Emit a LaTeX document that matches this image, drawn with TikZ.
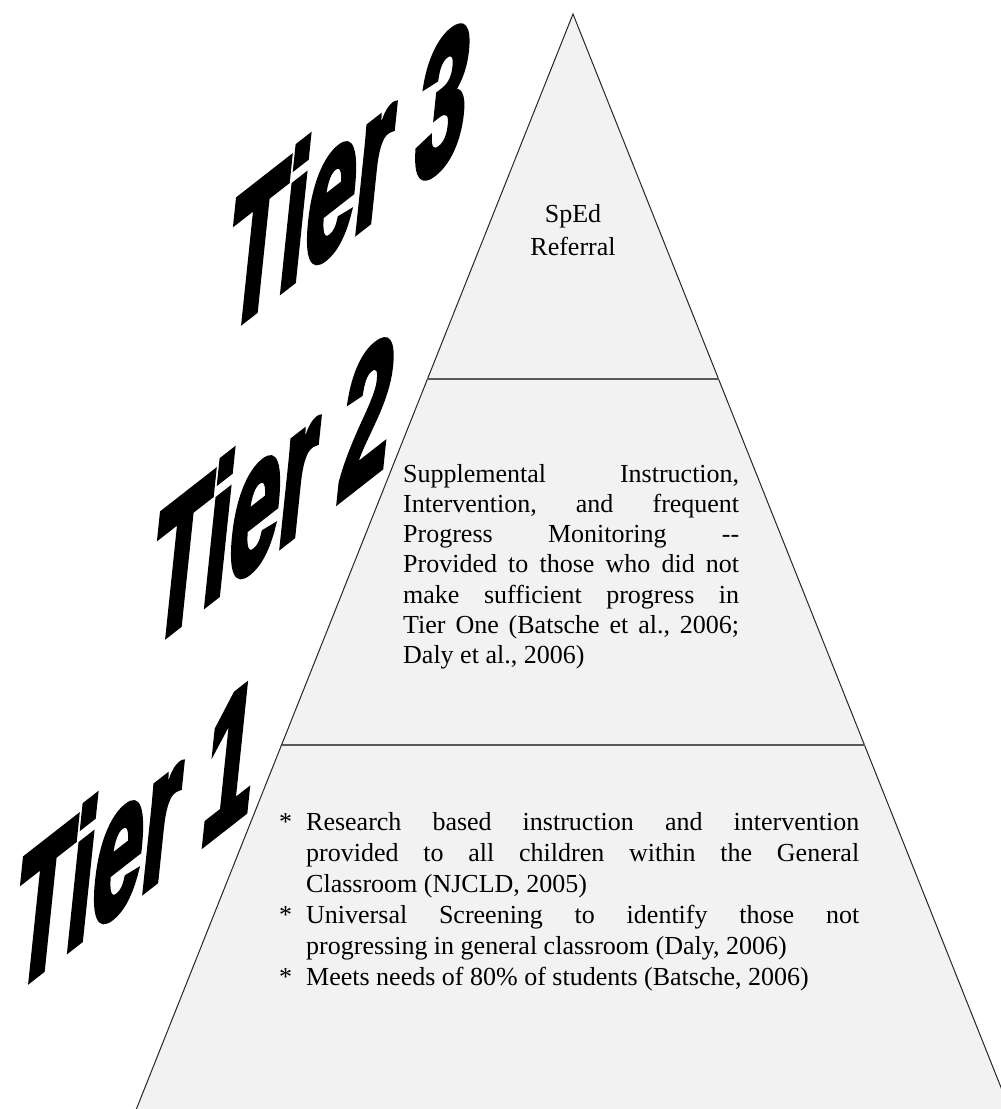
\documentclass[tikz,border=0pt]{standalone}
\usepackage{fontspec}
\setmainfont{Liberation Serif}
\newfontfamily\tierfont{Liberation Sans}[BoldFeatures={FakeBold=4}]
\usetikzlibrary{calc}
\definecolor{pyramidfill}{HTML}{F2F2F2}
\definecolor{dividergray}{HTML}{595959}
\setlength{\parindent}{0pt}

\begin{document}
\begin{tikzpicture}[x=1pt, y=-1pt,
    tierlabel/.style={font=\tierfont\bfseries\fontsize{86}{86}\selectfont, anchor=base west, inner sep=0pt, text height=0.74em, text depth=0pt, cm={1.05,0.82,0.24,2.3,(#1)}},
    tiertext/.style={inner sep=0pt, align=justify, anchor=north west},
    divider/.style={draw=dividergray, line width=2pt}]

    \useasboundingbox (0,0) rectangle (1001,1109);
    \clip (0,0) rectangle (1001,1109);

    \coordinate (apex) at (573,14);
    \coordinate (baseleft) at (134,1115);
    \coordinate (baseright) at (1012,1115);

    % pyramid and tier borders
    \filldraw[fill=pyramidfill, draw=black!85, line width=1pt] (apex) -- (baseleft) -- (baseright) -- cycle;
    \draw[divider] ($(apex)!0.3315!(baseleft)$) -- ($(apex)!0.3315!(baseright)$);
    \draw[divider] ($(apex)!0.664!(baseleft)$) -- ($(apex)!0.664!(baseright)$);

    % tier contents
    \node[inner sep=0pt, align=center, anchor=north, font=\fontsize{26}{33}\selectfont] (sped) at (573,199) {\strut SpEd\\Referral};
    \node[tiertext, text width=336pt, font=\fontsize{26}{30.2}\selectfont] (supplemental) at (403,461)
        {\frenchspacing\spaceskip=6.5pt plus 200pt\relax\strut
         Supplemental Instruction,\linebreak Intervention, and frequent\linebreak Progress Monitoring -{}-\linebreak
         Provided to those who did not\linebreak make sufficient progress in\linebreak
         Tier One (Batsche et al., 2006;\linebreak Daly et al., 2006)};
    \node[tiertext, text width=553pt, font=\fontsize{26}{31}\selectfont] (research) at (306,808.3)
        {\frenchspacing\spaceskip=6.5pt plus 200pt\relax
         \noindent\llap{*\hspace{14pt}}\strut Research based instruction and intervention\linebreak provided to all children within the General\linebreak Classroom (NJCLD, 2005)\par
         \noindent\llap{*\hspace{14pt}}\strut Universal Screening to identify those not\linebreak progressing in general classroom (Daly, 2006)\par
         \noindent\llap{*\hspace{14pt}}\strut Meets needs of 80\% of students (Batsche, 2006)};

    % tier labels
    \node[tierlabel={222,337}] (tierthree) at (0,0) {Tier 3};
    \node[tierlabel={146,651}] (tiertwo) at (0,0) {Tier 2};
    \node[tierlabel={9,996}] (tierone) at (0,0) {Tier 1};
\end{tikzpicture}
\end{document}
